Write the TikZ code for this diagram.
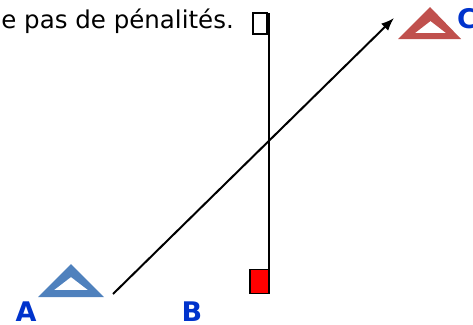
\documentclass[tikz,border=0pt]{standalone}
\usepackage{fontspec}
\setmainfont{DejaVu Sans}
\usetikzlibrary{arrows.meta}
\definecolor{triblue}{HTML}{4F81BD}
\definecolor{trired}{HTML}{C0504D}
\definecolor{lblblue}{HTML}{0033CC}
\begin{document}
\begin{tikzpicture}[x=1pt, y=-1pt, line join=miter, >={Latex[length=13pt,width=10pt]},
	lbl/.style={font=\fontsize{27}{27}\selectfont\bfseries, text=lblblue, inner sep=0pt}]
	\useasboundingbox (0,0) rectangle (473,324);
	\clip (0,0) rectangle (473,324);
	% texte en haut
	\node[anchor=base east, inner sep=0pt, font=\fontsize{24.5}{24.5}\selectfont] (txt) at (234,28) {e pas de pénalités.};
	\draw[line width=1.3pt] (253,13) rectangle (267,34);
	% ligne verticale et carre rouge
	\coordinate (haut) at (268.5,13); \coordinate (bas) at (268.5,269);
	\draw[line width=2pt] (haut) -- (bas);
	\node[draw=black, line width=1.3pt, fill=red, minimum width=19pt, minimum height=24pt, inner sep=0pt, anchor=north east] (carre) at (269.5,269) {};
	% triangles
	\fill[triblue, even odd rule] (38,297)--(104,297)--(71,264)--cycle (54,290)--(88,290)--(71,277)--cycle;
	\fill[trired, even odd rule] (398,39)--(461,39)--(430,7)--cycle (415,33)--(446,33)--(430.5,21)--cycle;
	% fleche
	\coordinate (depart) at (113,294); \coordinate (arrivee) at (394,18);
	\draw[->, line width=2pt] (depart) -- (arrivee);
	% lettres
	\node[lbl, anchor=base] (A) at (26,321) {A};
	\node[lbl, anchor=base] (B) at (192,321) {B};
	\node[lbl, anchor=base west] (C) at (457,28) {C};
\end{tikzpicture}
\end{document}
